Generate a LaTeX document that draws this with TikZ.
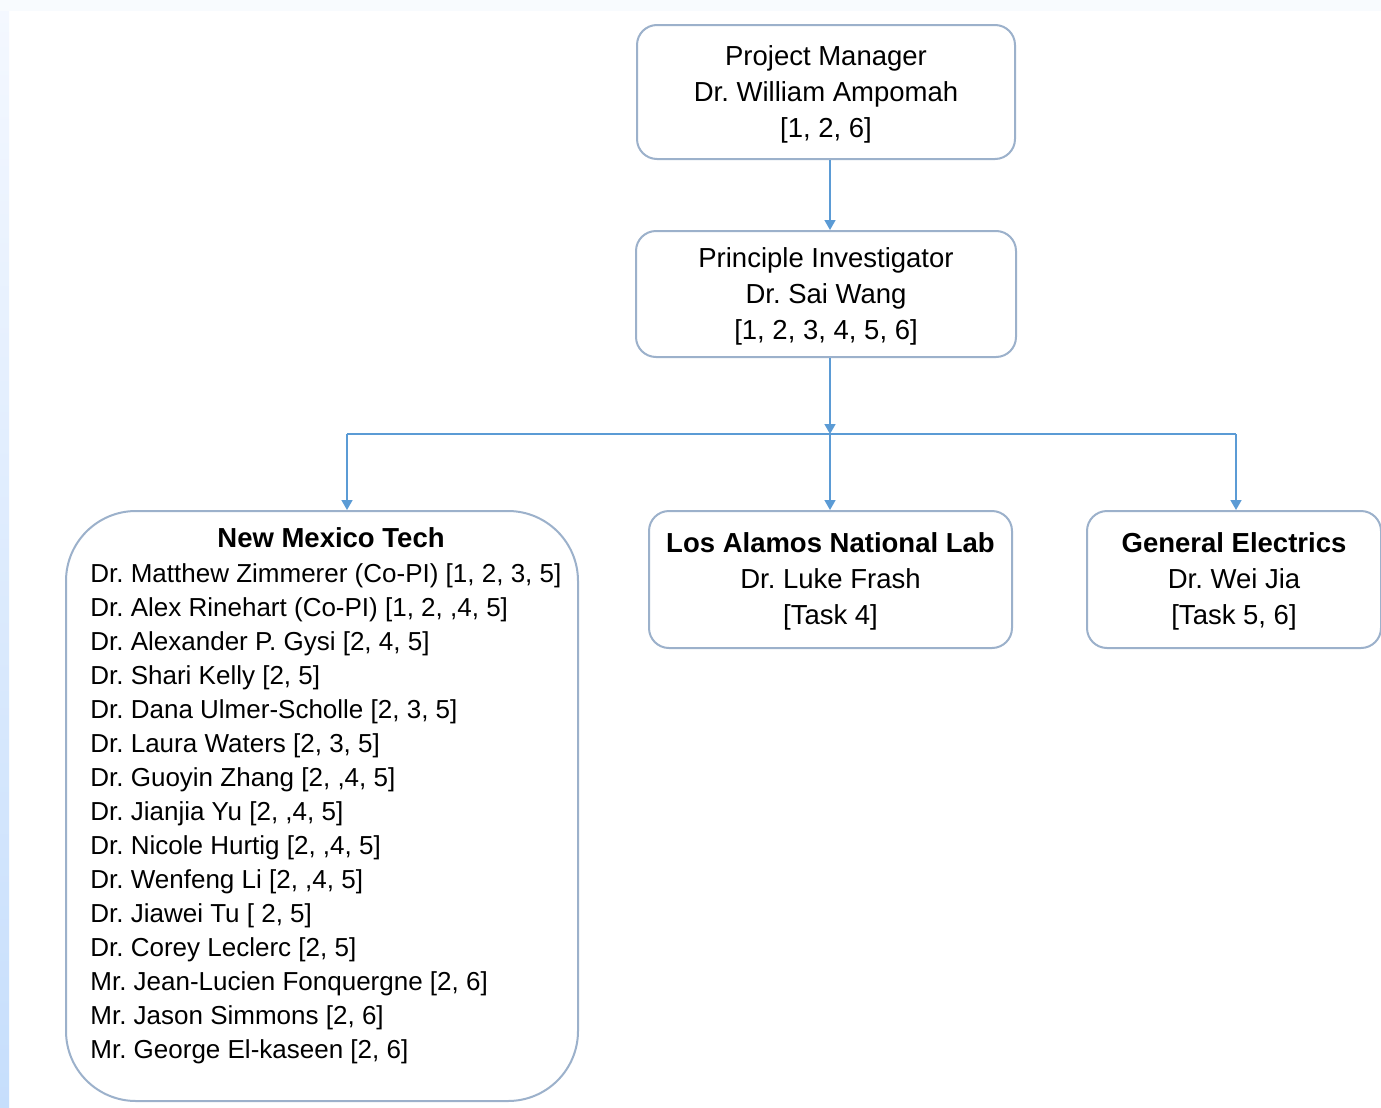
\documentclass[tikz,border=0pt]{standalone}
\usepackage{fontspec}
\setmainfont{Liberation Sans}
\usetikzlibrary{arrows.meta,positioning}
\frenchspacing

\definecolor{linkblue}{HTML}{5B9BD5}
\definecolor{boxedge}{HTML}{9CB1CB}
\definecolor{pagetop}{HTML}{F8FBFE}
\definecolor{sidetop}{HTML}{F4F8FF}
\definecolor{sidebottom}{HTML}{C6DEFC}

\begin{document}
\begin{tikzpicture}[x=0.5pt, y=-0.5pt, >=Latex,
  font=\fontsize{13.75}{18}\selectfont,
  orgbox/.style={draw=boxedge, line width=1pt, rounded corners=10pt,
    fill=white, align=center, inner sep=0pt},
  link/.style={draw=linkblue, line width=0.8pt,
    -{Triangle[length=5pt, width=5.5pt]}}]

  % ── Page background ───────────────────────────────────────────────────
  \useasboundingbox (0,0) rectangle (1381,1108);
  \fill[white] (0,0) rectangle (1381,1108);
  \fill[pagetop] (0,0) rectangle (1381,11);
  \shade[top color=sidetop, bottom color=sidebottom] (0,11) rectangle (9,1108);

  % ── Management ────────────────────────────────────────────────────────
  \node[orgbox, minimum width=189pt, minimum height=67pt] (pm) at (826,92)
    {\rule{0pt}{12pt}Project Manager\\Dr. William Ampomah\\{[}1, 2, 6{]}};
  \node[orgbox, minimum width=190pt, minimum height=63pt] (pi) at (826,294)
    {\rule{0pt}{12pt}Principle Investigator\\Dr. Sai Wang\\{[}1, 2, 3, 4, 5, 6{]}};

  % ── Partner institutions ──────────────────────────────────────────────
  % NMT: x in [66, 578]
  \node[orgbox, rounded corners=35pt, minimum width=256pt, minimum height=295pt]
    (nmt) at (322,806) {};
  \node[font=\fontsize{13.75}{18}\bfseries] (nmthead) at (331,538) {New Mexico Tech};
  \node[anchor=north west, align=left, inner sep=0pt,
    font=\fontsize{13}{17}\selectfont] (nmtstaff) at (90,563)
    {Dr. Matthew Zimmerer (Co-PI) {[}1, 2, 3, 5{]}\\
     Dr. Alex Rinehart (Co-PI) {[}1, 2, ,4, 5{]}\\
     Dr. Alexander P. Gysi {[}2, 4, 5{]}\\
     Dr. Shari Kelly {[}2, 5{]}\\
     Dr. Dana Ulmer-Scholle {[}2, 3, 5{]}\\
     Dr. Laura Waters {[}2, 3, 5{]}\\
     Dr. Guoyin Zhang {[}2, ,4, 5{]}\\
     Dr. Jianjia Yu {[}2, ,4, 5{]}\\
     Dr. Nicole Hurtig {[}2, ,4, 5{]}\\
     Dr. Wenfeng Li {[}2, ,4, 5{]}\\
     Dr. Jiawei Tu {[} 2, 5{]}\\
     Dr. Corey Leclerc {[}2, 5{]}\\
     Mr. Jean-Lucien Fonquergne {[}2, 6{]}\\
     Mr. Jason Simmons {[}2, 6{]}\\
     Mr. George El-kaseen {[}2, 6{]}};

  % LANL: x in [649, 1012]
  \node[orgbox, minimum width=181.5pt, minimum height=68.5pt] (lanl) at (830.5,579.5)
    {\rule{0pt}{12pt}\textbf{Los Alamos National Lab}\\Dr. Luke Frash\\{[}Task 4{]}};

  % GE: x in [1085, 1379]
  \node[orgbox, minimum width=147pt, minimum height=68.5pt] (ge) at (1234,579.5)
    {\rule{0pt}{12pt}\textbf{General Electrics}\\Dr. Wei Jia\\{[}Task 5, 6{]}};

  % ── Connectors ────────────────────────────────────────────────────────
  \coordinate (spine) at (830,434);
  \coordinate (nmtdrop) at (347,434);
  \coordinate (gedrop) at (1236,434);

  \draw[link] (pm.south -| spine) -- (pi.north -| spine);
  \draw[link] (pi.south -| spine) -- (spine);
  \draw[linkblue, line width=0.8pt] (nmtdrop) -- (gedrop);
  \draw[link] (nmtdrop) -- (nmt.north -| nmtdrop);
  \draw[link] (spine) -- (lanl.north -| spine);
  \draw[link] (gedrop) -- (ge.north -| gedrop);

\end{tikzpicture}
\end{document}
